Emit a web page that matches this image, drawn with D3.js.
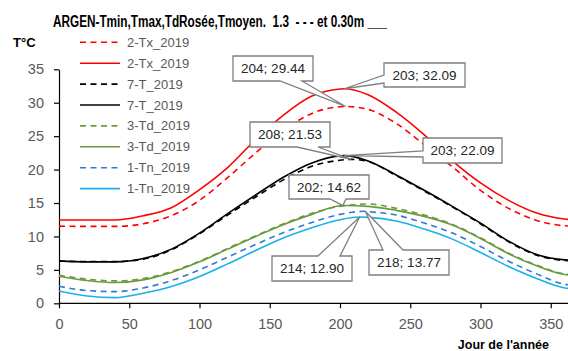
<!DOCTYPE html>
<html>
<head>
<meta charset="utf-8">
<script src="https://cdn.jsdelivr.net/npm/d3@7"></script>
<style>
  html, body { margin: 0; padding: 0; background: #fff; }
  svg { display: block; font-family: "Liberation Sans", Arial, sans-serif; }
</style>
</head>
<body>
<svg id="chart" width="568" height="351"></svg>
<script>
// Day of year sampled along each curve
const days = [0, 20, 40, 60, 80, 100, 120, 140, 160, 180, 200, 220, 240, 260, 280, 300, 320, 340, 360, 365];

// Temperatures (°C), dashed = 1.3 m, solid = 0.30 m
const txDashed = [11.55, 11.5, 11.5, 11.9, 13.1, 15.4, 18.8, 22.5, 25.9, 28.4, 29.4, 29.0, 26.9, 23.7, 20.4, 16.9, 14.2, 12.4, 11.6, 11.55];
const txSolid  = [12.45, 12.45, 12.45, 13.1, 14.3, 17.0, 20.3, 24.5, 28.2, 31.0, 32.05, 31.2, 28.6, 25.2, 21.3, 18.0, 15.4, 13.5, 12.6, 12.5];
const tDashed  = [6.3, 6.25, 6.25, 6.6, 8.0, 10.4, 13.2, 15.9, 18.5, 20.5, 21.4, 21.2, 19.1, 16.8, 14.4, 11.9, 9.2, 7.2, 6.4, 6.35];
const tSolid   = [6.35, 6.2, 6.2, 6.7, 8.1, 10.5, 13.4, 16.2, 18.9, 21.0, 22.05, 21.3, 19.2, 16.9, 14.5, 12.0, 9.3, 7.3, 6.5, 6.45];
const tdDashed = [4.2, 3.6, 3.35, 3.7, 4.75, 6.3, 8.2, 10.1, 11.9, 13.45, 14.5, 14.85, 14.2, 13.2, 11.8, 9.8, 7.5, 5.7, 4.4, 4.3];
const tdSolid  = [4.05, 3.4, 3.1, 3.5, 4.6, 6.2, 8.1, 10.0, 11.8, 13.3, 14.6, 14.5, 13.9, 13.0, 11.7, 9.7, 7.4, 5.6, 4.3, 4.2];
const tnDashed = [2.55, 1.9, 1.75, 2.3, 3.4, 5.0, 6.9, 8.8, 10.6, 12.1, 13.3, 13.72, 13.2, 12.0, 10.5, 8.5, 6.3, 4.4, 2.85, 2.75];
const tnSolid  = [1.85, 1.1, 0.85, 1.5, 2.5, 4.0, 5.9, 7.9, 9.8, 11.3, 12.5, 12.85, 12.3, 11.1, 9.6, 7.6, 5.5, 3.7, 2.3, 2.2];

// Annual maxima (day, value); null where none is labelled
const peakDays = [204, 203, 208, 203, null, 202, 218, 214];
const peakVals = [29.44, 32.09, 21.53, 22.09, null, 14.62, 13.77, 12.90];

const seriesNames = ["2-Tx_2019", "2-Tx_2019", "7-T_2019", "7-T_2019", "3-Td_2019", "3-Td_2019", "1-Tn_2019", "1-Tn_2019"];
const seriesValues = [txDashed, txSolid, tDashed, tSolid, tdDashed, tdSolid, tnDashed, tnSolid];
const seriesColors = ["#ff0000", "#ff0000", "#000000", "#000000", "#6a9a3e", "#6a9a3e", "#2e7bcf", "#19b0ee"];
const seriesDashed = [true, false, true, false, true, false, true, false];

const xTicks = [0, 50, 100, 150, 200, 250, 300, 350];
const yTicks = [0, 5, 10, 15, 20, 25, 30, 35];

// Callout boxes: [left, top, width, height, side of pointer, pointer base start, end]
const calloutBoxes = [
  [233, 56, 80, 25, "bottom", 280, 302],
  [384, 63, 81, 24, "left", 75, 83],
  [250, 122, 80, 25, "bottom", 297, 318],
  [423, 138, 79, 25, "left", 151, 157],
  null,
  [289, 175, 80, 24, "bottom", 330, 346],
  [369, 250, 80, 25, "top", 383, 403],
  [272, 256, 80, 25, "top", 318, 340]
];

const svg = d3.select("#chart");

const x = d3.scaleLinear().domain([0, 365]).range([59, 59 + 365 * 1.405]);
const y = d3.scaleLinear().domain([0, 35]).range([303.3, 69.3]);

// Axes
const yAxis = svg.append("g").attr("transform", `translate(${x(0)},0)`)
  .call(d3.axisLeft(y).tickValues(yTicks).tickSize(5).tickPadding(10).tickSizeOuter(0));
const xAxis = svg.append("g").attr("transform", `translate(0,${y(0)})`)
  .call(d3.axisBottom(x).tickValues(xTicks).tickSize(5).tickPadding(10).tickSizeOuter(0));
[yAxis, xAxis].forEach(g => {
  g.select(".domain").attr("stroke", "#000").attr("stroke-width", 1.2);
  g.selectAll(".tick line").attr("stroke", "#000").attr("stroke-width", 1.2);
  g.selectAll(".tick text").attr("fill", "#595959").style("font-size", "14.5px")
    .style("font-family", "'Liberation Sans', Arial, sans-serif");
});
xAxis.select(".domain").attr("d", `M${x(0)},0H568`);

// Curves
const line = d3.line().x(d => x(d[0])).y(d => y(d[1])).curve(d3.curveMonotoneX);
const plot = svg.append("g");
seriesValues.forEach((vals, i) => {
  const pts = days.map((d, k) => [d, vals[k]]);
  if (peakDays[i] !== null) {
    pts.push([peakDays[i], peakVals[i]]);
    pts.sort((a, b) => a[0] - b[0]);
  }
  plot.append("path")
    .attr("d", line(pts))
    .attr("fill", "none")
    .attr("stroke", seriesColors[i])
    .attr("stroke-width", 1.6)
    .attr("stroke-dasharray", seriesDashed[i] ? "6,4.5" : null);
});

// Legend
const legend = svg.append("g");
seriesNames.forEach((name, i) => {
  const ly = 42.3 + i * 20.9;
  legend.append("line")
    .attr("x1", 80).attr("x2", 120).attr("y1", ly).attr("y2", ly)
    .attr("stroke", seriesColors[i]).attr("stroke-width", 1.6)
    .attr("stroke-dasharray", seriesDashed[i] ? "6,4.5" : null);
  legend.append("text")
    .attr("x", 127).attr("y", ly).attr("dy", "0.35em")
    .attr("fill", "#595959").style("font-size", "13px")
    .text(name);
});

// Callouts on the annual maxima
const callouts = svg.append("g");
calloutBoxes.forEach((b, i) => {
  if (!b) return;
  const [bx, by, bw, bh, side, s0, s1] = b;
  const px = x(peakDays[i]), py = y(peakVals[i]);
  let pts;
  if (side === "bottom") {
    pts = [[bx, by], [bx + bw, by], [bx + bw, by + bh], [s1, by + bh], [px, py], [s0, by + bh], [bx, by + bh]];
  } else if (side === "top") {
    pts = [[bx, by], [s0, by], [px, py], [s1, by], [bx + bw, by], [bx + bw, by + bh], [bx, by + bh]];
  } else {
    pts = [[bx, by], [bx + bw, by], [bx + bw, by + bh], [bx, by + bh], [bx, s1], [px, py], [bx, s0]];
  }
  callouts.append("path")
    .attr("d", "M" + pts.map(p => p.join(",")).join("L") + "Z")
    .attr("fill", "#fff").attr("stroke", "#7f7f7f").attr("stroke-width", 1.3);
  callouts.append("text")
    .attr("x", bx + bw / 2).attr("y", by + bh / 2).attr("dy", "0.36em")
    .attr("text-anchor", "middle").attr("fill", "#262626")
    .style("font-size", "13.5px")
    .text(`${peakDays[i]}; ${peakVals[i].toFixed(2)}`);
});

// Titles
svg.append("text")
  .attr("x", 53).attr("y", 27)
  .attr("textLength", 334).attr("lengthAdjust", "spacingAndGlyphs")
  .style("white-space", "pre")
  .style("font-size", "16px").style("font-weight", "bold").attr("fill", "#000")
  .text("ARGEN-Tmin,Tmax,TdRosée,Tmoyen.  1.3  - - - et 0.30m ___");
svg.append("text")
  .attr("x", 13).attr("y", 47)
  .style("font-size", "13px").style("font-weight", "bold").attr("fill", "#000")
  .text("T°C");
svg.append("text")
  .attr("x", 549).attr("y", 349).attr("text-anchor", "end")
  .style("font-size", "12.5px").style("font-weight", "bold").attr("fill", "#000")
  .text("Jour de l'année");
</script>
</body>
</html>
